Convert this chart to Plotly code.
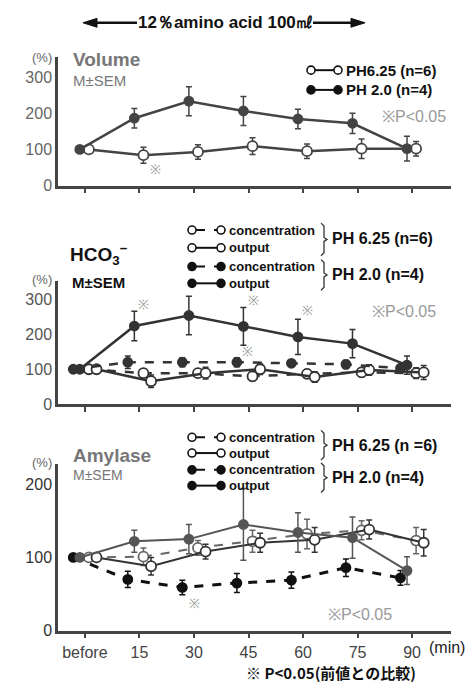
import plotly.graph_objects as go

# ---------------- data ----------------
times = [0, 15, 30, 45, 60, 75, 90]
tick_labels = ["before", "15", "30", "45", "60", "75", "90"]

# Volume (%)
vol_ph625 = [100, 84, 93, 109, 95, 102, 102]
vol_ph625_err = [0, 22, 20, 23, 20, 27, 20]
vol_ph20 = [100, 186, 233, 206, 184, 172, 102]
vol_ph20_err = [0, 27, 40, 40, 27, 28, 34]

# HCO3- (%)
hco3_conc_ph625 = [100, 89, 89, 80, 87, 91, 89]
hco3_conc_ph625_err = [0, 12, 12, 12, 12, 12, 15]
hco3_out_ph625 = [100, 66, 89, 100, 78, 98, 91]
hco3_out_ph625_err = [0, 18, 17, 15, 15, 15, 20]
hco3_conc_ph20 = [100, 120, 120, 120, 117, 114, 103]
hco3_conc_ph20_err = [0, 18, 13, 13, 8, 12, 10]
hco3_out_ph20 = [100, 223, 253, 222, 192, 173, 112]
hco3_out_ph20_err = [0, 42, 55, 54, 50, 40, 26]

# Amylase (%)
amy_conc_ph625 = [100, 101, 113, 122, 132, 137, 123]
amy_conc_ph625_err = [0, 12, 10, 15, 20, 13, 18]
amy_out_ph625 = [100, 88, 108, 120, 124, 138, 120]
amy_out_ph625_err = [0, 12, 10, 13, 17, 13, 18]
amy_conc_ph20 = [100, 70, 59, 65, 69, 86, 72]
amy_conc_ph20_err = [0, 11, 10, 13, 11, 12, 10]
amy_out_ph20 = [100, 122, 125, 145, 134, 127, 82]
amy_out_ph20_err = [0, 15, 20, 49, 27, 28, 19]

# ---------------- styling helpers ----------------
W, H = 473, 684
ML, MR = 50, 30
PW = W - ML - MR
FONT = "Liberation Sans, Arial, sans-serif"
JFONT = "Noto Sans CJK JP, Liberation Sans, sans-serif"
DARK = "#333333"

# horizontal display shift (minutes) per series so the marks do not overlap
SHIFT = {"c2": -3.2, "o2": -1.4, "c6": 1.1, "o6": 3.2}


def px(x):
    return (x - ML) / PW


def py(y):
    return 1 - y / H


def shifted(key):
    return [t + SHIFT[key] for t in times]


def series(xkey, y, err, filled, dashed, xa, ya, color=DARK, lw=2.5, size=10):
    return go.Scatter(
        x=shifted(xkey), y=y, xaxis=xa, yaxis=ya, mode="lines+markers",
        line=dict(color=color, width=lw, dash="dash" if dashed else "solid"),
        marker=dict(symbol="circle", size=size if not filled else size - 1,
                    color=color if filled else "white",
                    line=dict(color=color, width=1.8)),
        error_y=dict(type="data", array=err, visible=True, color=color,
                     thickness=1.5, width=3),
        hoverinfo="skip",
    )


fig = go.Figure()

# Panel 1 : Volume
fig.add_trace(series("c6", vol_ph625, vol_ph625_err, False, False, "x", "y", color="#444"))
fig.add_trace(series("o2", vol_ph20, vol_ph20_err, True, False, "x", "y", color="#444"))

# Panel 2 : HCO3
fig.add_trace(series("c6", hco3_conc_ph625, hco3_conc_ph625_err, False, True, "x2", "y2"))
fig.add_trace(series("o6", hco3_out_ph625, hco3_out_ph625_err, False, False, "x2", "y2"))
fig.add_trace(series("c2", hco3_conc_ph20, hco3_conc_ph20_err, True, True, "x2", "y2"))
fig.add_trace(series("o2", hco3_out_ph20, hco3_out_ph20_err, True, False, "x2", "y2"))

# Panel 3 : Amylase
fig.add_trace(series("c6", amy_conc_ph625, amy_conc_ph625_err, False, True, "x3", "y3", color="#666", lw=2))
fig.add_trace(series("o6", amy_out_ph625, amy_out_ph625_err, False, False, "x3", "y3", color="#333", lw=2))
fig.add_trace(series("c2", amy_conc_ph20, amy_conc_ph20_err, True, True, "x3", "y3", color="#111", lw=3))
fig.add_trace(series("o2", amy_out_ph20, amy_out_ph20_err, True, False, "x3", "y3", color="#555", lw=2))

# ---------------- axes ----------------
XR = [-7.4, 100.7]
xcommon = dict(range=XR, tickvals=times, ticks="outside", ticklen=5, tickwidth=1.5,
               tickcolor="#444", showline=True, linewidth=2.5, linecolor="#444",
               showgrid=False, zeroline=False, domain=[0, 1], fixedrange=True)
ycommon = dict(showline=True, linewidth=2.5, linecolor="#444", ticks="",
               showgrid=False, zeroline=False, fixedrange=True,
               tickfont=dict(family=FONT, size=16))

fig.update_layout(
    width=W, height=H, margin=dict(l=ML, r=MR, t=0, b=0),
    paper_bgcolor="white", plot_bgcolor="white", showlegend=False,
    xaxis=dict(xcommon, anchor="y", showticklabels=False),
    xaxis2=dict(xcommon, anchor="y2", showticklabels=False),
    xaxis3=dict(xcommon, anchor="y3", showticklabels=True, ticktext=tick_labels,
                tickfont=dict(family=FONT, size=16, color="#444")),
    yaxis=dict(ycommon, anchor="x", range=[0, 354], tickvals=[0, 100, 200, 300],
               domain=[py(180), py(50)], tickfont=dict(family=FONT, size=16, color="#666")),
    yaxis2=dict(ycommon, anchor="x2", range=[0, 351], tickvals=[0, 100, 200, 300],
                domain=[py(401.7), py(276.7)], tickfont=dict(family=FONT, size=16, color="#555")),
    yaxis3=dict(ycommon, anchor="x3", range=[0, 228], tickvals=[0, 100, 200],
                domain=[py(631), py(461.7)], tickfont=dict(family=FONT, size=16, color="#333")),
)

# ---------------- annotations ----------------
ann = []


def text(x, y, s, size=13, color="#111", anchor="left", family=FONT, yanchor="middle"):
    ann.append(dict(x=px(x), y=py(y), xref="paper", yref="paper", text=s,
                    showarrow=False, xanchor=anchor, yanchor=yanchor,
                    font=dict(family=family, size=size, color=color)))


shapes = []

# top arrow + title
text(217, 15, "<b>12％amino acid 100㎖</b>", size=17, anchor="center")


def arrow(head, tail, y, dashed):
    d = 1 if tail > head else -1
    shapes.append(dict(type="line", xref="paper", yref="paper",
                       x0=px(head + d * 8), x1=px(tail), y0=py(y), y1=py(y),
                       line=dict(color="#111", width=2.5, dash="dash" if dashed else "solid")))
    shapes.append(dict(type="path", xref="paper", yref="paper",
                       path="M %f,%f L %f,%f L %f,%f Z" % (
                           px(head), py(y), px(head + d * 14), py(y - 4.5),
                           px(head + d * 14), py(y + 4.5)),
                       fillcolor="#111", line=dict(color="#111", width=1)))


def brace(x, top, bot):
    mid = (top + bot) / 2
    pts = [(x, top), (x + 3, top + 3), (x + 3, mid - 2), (x + 6, mid),
           (x + 3, mid + 2), (x + 3, bot - 3), (x, bot)]
    path = "M " + " L ".join("%f,%f" % (px(a), py(b)) for a, b in pts)
    shapes.append(dict(type="path", xref="paper", yref="paper", path=path,
                       line=dict(color="#333", width=1.3)))


arrow(75, 129, 15, False)
arrow(357, 305, 15, False)

# Panel 1 texts
text(22, 50, "(%)", 13, "#666")
text(63, 52, "<b>Volume</b>", 19, "#777")
text(63, 73, "M±SEM", 15, "#777")
text(336, 63, "<b>PH6.25 (n=6)</b>", 15, "#111")
text(336, 83, "<b>PH 2.0 (n=4)</b>", 15, "#111")
text(372, 110, "※P<0.05", 16, "#999")
text(147, 164, "※", 13, "#999", anchor="center")

# Panel 2 texts
text(60, 250, "<b>HCO<sub>3</sub><sup>−</sup></b>", 19, "#111")
text(62, 278, "<b>M±SEM</b>", 15, "#111")
text(22, 275, "(%)", 13, "#666")
for yy, s in [(225, "concentration"), (243, "output"), (262, "concentration"), (279, "output")]:
    text(219, yy, "<b>%s</b>" % s, 13, "#111")
brace(313, 218, 251)
brace(313, 255, 286)
text(322, 234, "<b>PH 6.25 (n=6)</b>", 16, "#111")
text(322, 270, "<b>PH 2.0 (n=4)</b>", 16, "#111")
text(362, 308, "※P<0.05", 16, "#999")
for ax_, ay_ in [(135, 300), (245, 296), (239, 348), (299, 307)]:
    text(ax_, ay_, "※", 13, "#999", anchor="center")

# Panel 3 texts
text(22, 461, "(%)", 13, "#666")
text(63, 453, "<b>Amylase</b>", 19, "#777")
text(63, 473, "M±SEM", 14, "#777")
for yy, s in [(435, "concentration"), (451, "output"), (468, "concentration"), (484, "output")]:
    text(219, yy, "<b>%s</b>" % s, 13, "#111")
brace(313, 428, 458)
brace(313, 461, 491)
text(322, 443, "<b>PH 6.25 (n =6)</b>", 16, "#111")
text(322, 476, "<b>PH 2.0 (n=4)</b>", 16, "#111")
text(318, 615, "※P<0.05", 16, "#999")
text(186, 603, "※", 13, "#999", anchor="center")
text(419, 648, "(min)", 16, "#222")
text(236, 673, "<b>※ P<0.05(前値との比較)</b>", 15, "#111", family=JFONT)

# ---------------- legend samples (shapes) ----------------


def sample(x0, x1, y, filled, dashed):
    shapes.append(dict(type="line", xref="paper", yref="paper",
                       x0=px(x0 + 4), x1=px(x1 - 4), y0=py(y), y1=py(y),
                       line=dict(color="#111", width=2, dash="dash" if dashed else "solid")))
    for xc in (x0, x1):
        shapes.append(dict(type="circle", xref="paper", yref="paper",
                           xsizemode="pixel", ysizemode="pixel",
                           xanchor=px(xc), yanchor=py(y), x0=-4, x1=4, y0=-4, y1=4,
                           fillcolor="#111" if filled else "white",
                           line=dict(color="#111", width=1.6)))


sample(303, 330, 63, False, False)
sample(303, 330, 83, True, False)
for yy, f, d in [(225, False, True), (243, False, False), (262, True, True), (279, True, False)]:
    sample(184, 213, yy, f, d)
for yy, f, d in [(435, False, True), (451, False, False), (468, True, True), (484, True, False)]:
    sample(184, 213, yy, f, d)

fig.update_layout(annotations=ann, shapes=shapes)

fig.write_html("out.html")
